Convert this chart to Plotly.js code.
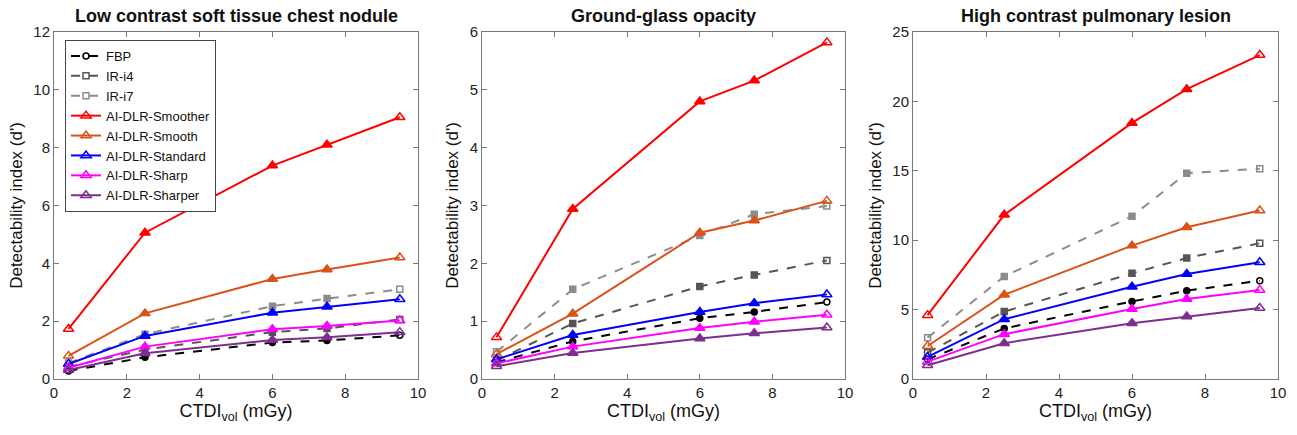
<!DOCTYPE html>
<html><head><meta charset="utf-8">
<script src="https://cdn.plot.ly/plotly-3.0.1.min.js"></script>
<style>html,body{margin:0;padding:0;background:#fff}#chart{width:1297px;height:435px}</style>
</head><body><div id="chart"></div>
<script>
const dose = [0.4, 2.5, 6, 7.5, 9.5];
const seriesNames = ["FBP","IR-i4","IR-i7","AI-DLR-Smoother","AI-DLR-Smooth","AI-DLR-Standard","AI-DLR-Sharp","AI-DLR-Sharper"];
const panelTitles = ["Low contrast soft tissue chest nodule","Ground-glass opacity","High contrast pulmonary lesion"];
const yRanges = [[0,12],[0,6],[0,25]];
const yTicks = [[0,2,4,6,8,10,12],[0,1,2,3,4,5,6],[0,5,10,15,20,25]];
const xTicks = [0,2,4,6,8,10];

// panel 1: Low contrast soft tissue chest nodule
const p1 = {
  "FBP":[0.28,0.75,1.26,1.33,1.51],
  "IR-i4":[0.42,1.02,1.62,1.75,2.06],
  "IR-i7":[0.55,1.55,2.52,2.78,3.10],
  "AI-DLR-Smoother":[1.73,5.06,7.38,8.10,9.05],
  "AI-DLR-Smooth":[0.80,2.27,3.46,3.79,4.20],
  "AI-DLR-Standard":[0.52,1.49,2.29,2.50,2.76],
  "AI-DLR-Sharp":[0.39,1.12,1.72,1.83,2.02],
  "AI-DLR-Sharper":[0.31,0.89,1.35,1.44,1.62]
};
// panel 2: Ground-glass opacity
const p2 = {
  "FBP":[0.29,0.65,1.05,1.16,1.33],
  "IR-i4":[0.32,0.96,1.60,1.80,2.05],
  "IR-i7":[0.47,1.55,2.48,2.85,2.99],
  "AI-DLR-Smoother":[0.72,2.94,4.80,5.16,5.82],
  "AI-DLR-Smooth":[0.43,1.13,2.53,2.74,3.08],
  "AI-DLR-Standard":[0.34,0.76,1.16,1.31,1.46],
  "AI-DLR-Sharp":[0.27,0.56,0.88,0.99,1.11],
  "AI-DLR-Sharper":[0.22,0.45,0.70,0.79,0.89]
};
// panel 3: High contrast pulmonary lesion
const p3 = {
  "FBP":[1.42,3.64,5.59,6.36,7.08],
  "IR-i4":[1.90,4.86,7.61,8.72,9.78],
  "IR-i7":[2.98,7.39,11.73,14.83,15.15],
  "AI-DLR-Smoother":[4.60,11.83,18.45,20.88,23.34],
  "AI-DLR-Smooth":[2.38,6.07,9.61,10.93,12.14],
  "AI-DLR-Standard":[1.59,4.31,6.65,7.56,8.41],
  "AI-DLR-Sharp":[1.25,3.23,5.04,5.76,6.41],
  "AI-DLR-Sharper":[0.99,2.58,4.02,4.50,5.11]
};
const panels = [p1,p2,p3];

const styles = {
  "FBP":{color:"#000000",dash:"dash",sym:"circle"},
  "IR-i4":{color:"#555555",dash:"dash",sym:"square"},
  "IR-i7":{color:"#8c8c8c",dash:"dash",sym:"square"},
  "AI-DLR-Smoother":{color:"#ff0000",dash:"solid",sym:"triangle-up"},
  "AI-DLR-Smooth":{color:"#d95319",dash:"solid",sym:"triangle-up"},
  "AI-DLR-Standard":{color:"#0000ff",dash:"solid",sym:"triangle-up"},
  "AI-DLR-Sharp":{color:"#ff00ff",dash:"solid",sym:"triangle-up"},
  "AI-DLR-Sharper":{color:"#7e2f8e",dash:"solid",sym:"triangle-up"}
};

const traces = [];
panels.forEach((p, pi) => {
  seriesNames.forEach(name => {
    const st = styles[name];
    const syms = dose.map((d, i) => (i === 0 || i === dose.length - 1) ? st.sym + "-open" : st.sym);
    const sz = st.sym === "triangle-up" ? 9 : 6;
    traces.push({
      x: dose, y: p[name], name: name, type: "scatter", mode: "lines+markers",
      xaxis: pi === 0 ? "x" : "x" + (pi + 1), yaxis: pi === 0 ? "y" : "y" + (pi + 1),
      showlegend: pi === 0,
      line: {color: st.color, width: 2, dash: st.dash},
      marker: {symbol: syms, size: sz, color: st.color, line: {color: st.color, width: 1.5}}
    });
  });
});

const W = 1297, H = 435;
const xDom = [[54/W, 418/W],[482/W, 845/W],[913/W, 1278/W]];
const yDom = [1 - 379/H, 1 - 32/H];
const FONT = "Arial, Liberation Sans, sans-serif";
const axFont = {family: FONT, size: 15, color: "#222"};
const layout = {
  width: W, height: H, margin: {l:0, r:0, t:0, b:0},
  paper_bgcolor: "#fff", plot_bgcolor: "#fff",
  font: {family: FONT, color: "#222"},
  showlegend: true,
  legend: {x: 65/W, y: 1 - 40/H, xanchor: "left", yanchor: "top", bgcolor: "#fff",
    bordercolor: "#444", borderwidth: 1, font: {size: 13, color: "#111"},
    tracegroupgap: 0, itemwidth: 30},
  annotations: []
};
for (let i = 0; i < 3; i++) {
  const s = i === 0 ? "" : String(i + 1);
  layout["xaxis" + s] = {
    domain: xDom[i], anchor: "y" + s, range: [0, 10], tickvals: xTicks,
    ticks: "inside", ticklen: 5, tickcolor: "#777", showline: true, linecolor: "#777",
    linewidth: 1, mirror: "ticks", showgrid: false, zeroline: false, tickfont: axFont,
    title: {text: "CTDI<sub>vol</sub> (mGy)", font: {size: 18, color: "#111"}, standoff: 2}
  };
  layout["yaxis" + s] = {
    domain: yDom, anchor: "x" + s, range: yRanges[i], tickvals: yTicks[i],
    ticks: "inside", ticklen: 5, tickcolor: "#777", showline: true, linecolor: "#777",
    linewidth: 1, mirror: "ticks", showgrid: false, zeroline: false, tickfont: axFont,
    title: {text: "Detectability index (d')", font: {size: 17, color: "#111"}, standoff: 6}
  };
  layout.annotations.push({
    text: "<b>" + panelTitles[i] + "</b>", xref: "paper", yref: "paper",
    x: (xDom[i][0] + xDom[i][1]) / 2, y: 1 - 16/H, xanchor: "center", yanchor: "middle",
    showarrow: false, font: {size: 18, color: "#111", family: FONT}
  });
}
Plotly.newPlot("chart", traces, layout, {displayModeBar: false, staticPlot: true});
</script></body></html>
